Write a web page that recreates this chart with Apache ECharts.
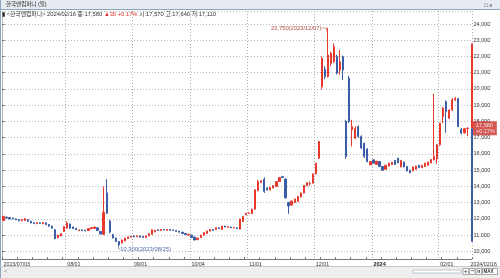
<!DOCTYPE html>
<html><head><meta charset="utf-8">
<script src="https://cdn.jsdelivr.net/npm/echarts@6/dist/echarts.min.js"></script>
<style>html,body{margin:0;padding:0;background:#fff;overflow:hidden}#c{width:500px;height:278px}</style>
</head><body><div id="c"></div>
<script>
const stockName = '한국앤컴퍼니';
const dates = [
'2023/07/03','2023/07/04','2023/07/05','2023/07/06','2023/07/07','2023/07/10','2023/07/11','2023/07/12','2023/07/13','2023/07/14','2023/07/17','2023/07/18','2023/07/19','2023/07/20','2023/07/21','2023/07/24','2023/07/25','2023/07/26','2023/07/27','2023/07/28','2023/07/31',
'2023/08/01','2023/08/02','2023/08/03','2023/08/04','2023/08/07','2023/08/08','2023/08/09','2023/08/10','2023/08/11','2023/08/14','2023/08/16','2023/08/17','2023/08/18','2023/08/21','2023/08/22','2023/08/23','2023/08/24','2023/08/25','2023/08/28','2023/08/29','2023/08/30','2023/08/31',
'2023/09/01','2023/09/04','2023/09/05','2023/09/06','2023/09/07','2023/09/08','2023/09/11','2023/09/12','2023/09/13','2023/09/14','2023/09/15','2023/09/18','2023/09/19','2023/09/20','2023/09/21','2023/09/22','2023/09/25','2023/09/26','2023/09/27',
'2023/10/04','2023/10/05','2023/10/06','2023/10/10','2023/10/11','2023/10/12','2023/10/13','2023/10/16','2023/10/17','2023/10/18','2023/10/19','2023/10/20','2023/10/23','2023/10/24','2023/10/25','2023/10/26','2023/10/27','2023/10/30','2023/10/31',
'2023/11/01','2023/11/02','2023/11/03','2023/11/06','2023/11/07','2023/11/08','2023/11/09','2023/11/10','2023/11/13','2023/11/14','2023/11/15','2023/11/16','2023/11/17','2023/11/20','2023/11/21','2023/11/22','2023/11/23','2023/11/24','2023/11/27','2023/11/28','2023/11/29','2023/11/30',
'2023/12/01','2023/12/04','2023/12/05','2023/12/06','2023/12/07','2023/12/08','2023/12/11','2023/12/12','2023/12/13','2023/12/14','2023/12/15','2023/12/18','2023/12/19','2023/12/20','2023/12/21','2023/12/22','2023/12/26','2023/12/27','2023/12/28',
'2024/01/02','2024/01/03','2024/01/04','2024/01/05','2024/01/08','2024/01/09','2024/01/10','2024/01/11','2024/01/12','2024/01/15','2024/01/16','2024/01/17','2024/01/18','2024/01/19','2024/01/22','2024/01/23','2024/01/24','2024/01/25','2024/01/26','2024/01/29','2024/01/30','2024/01/31',
'2024/02/01','2024/02/02','2024/02/05','2024/02/06','2024/02/07','2024/02/08','2024/02/13','2024/02/14','2024/02/15','2024/02/16'
];
const openP = [
11900,12100,12080,12050,12000,11950,11880,11900,11950,11850,11760,11700,11760,11700,11760,11650,11550,11330,10850,10950,11230,
11430,11680,11500,11420,11280,11320,11300,11280,11400,11420,11450,11230,11050,13600,11850,11030,10820,10610,10520,10640,10800,10880,
10950,10900,10950,10920,10850,10950,11050,11200,11330,11280,11350,11300,11350,11320,11280,11240,11180,11100,11000,
11000,10880,10720,10850,11000,11100,11250,11350,11350,11450,11350,11550,11480,11500,11450,11450,11370,11840,12250,
12350,12320,12600,13750,14250,14450,13900,13780,13900,14000,14300,14600,14450,13010,12850,13010,13070,13350,13590,14040,14150,14200,
14770,15740,20140,21210,20760,21580,21680,21990,21170,21990,18000,20660,17480,16970,17680,17070,16660,16300,15330,
15630,15350,15530,15220,15050,15250,15350,15600,15740,15200,15500,15220,15000,14950,15050,15300,15150,15220,15300,15450,15630,15700,
16560,18300,19220,18200,18700,19330,19400,17520,17300,17570
];
const highP = [
12200,12150,12100,12080,12030,11980,11980,12050,11980,11880,11800,11790,11790,11800,11780,11680,11580,11380,11030,11130,11560,
11850,11720,11530,11450,11340,11340,11320,11420,11480,11520,11480,11250,14000,14450,11950,11080,10850,10640,10720,10840,10910,10950,
10980,10970,10970,10940,10970,11120,11350,11320,11360,11370,11380,11370,11370,11340,11300,11260,11200,11120,11070,
11020,10900,10840,11020,11170,11270,11370,11380,11470,11480,11570,11580,11540,11520,11500,11470,12010,12170,12370,
12400,12620,13800,14400,14380,14550,13950,13970,14070,14320,14570,14650,14500,13050,13120,13240,13400,13620,14070,14260,14300,14790,
15450,16780,22000,21400,23750,22300,22800,22100,22400,22050,18100,20800,18100,17700,17750,17150,16700,16350,15550,
15680,15570,15560,15250,15320,15450,15500,15630,15760,15620,15520,15240,15020,15220,15270,15320,15320,15450,15520,15670,19700,16600,
17920,18900,19300,18750,19450,19500,19450,17600,17600,17640
];
const lowP = [
11880,12030,11980,11980,11930,11860,11860,11880,11830,11730,11700,11680,11700,11680,11630,11530,11410,10750,10800,10920,11200,
11400,11410,11380,11310,11260,11250,11240,11260,11380,11400,11260,11050,11000,12300,11100,10800,10590,10300,10480,10620,10780,10860,
10880,10880,10860,10830,10830,10930,11030,11180,11260,11260,11300,11280,11280,11260,11210,11160,11080,11010,10980,
10830,10680,10700,10830,10980,11080,11230,11280,11330,11380,11330,11480,11460,11430,11430,11380,11350,11820,12230,
12300,12300,12580,13700,14200,13600,13750,13760,13880,13980,14280,14520,13250,12315,12830,12990,13050,13330,13570,14020,14050,14180,
14750,15700,19980,20600,20700,21400,21600,20900,20870,20560,15700,17900,16460,16900,17000,16300,15750,15480,15300,
15400,15330,15200,14980,15030,15230,15330,15330,15430,15180,15180,14930,14800,14930,15030,15130,15130,15200,15280,15430,15610,15400,
16500,17900,17300,18150,18650,19250,17650,17200,17250,17110
];
const closeP = [
12150,12050,12000,12000,11950,11880,11950,12000,11850,11750,11720,11760,11720,11780,11650,11550,11430,10780,11000,11100,11530,
11740,11430,11400,11330,11320,11270,11260,11400,11460,11500,11280,11070,12400,12350,11200,10820,10610,10400,10700,10820,10890,10920,
10900,10950,10880,10850,10950,11100,11330,11300,11280,11350,11320,11350,11300,11280,11230,11180,11100,11030,11050,
10850,10700,10820,11000,11150,11250,11350,11300,11450,11400,11550,11500,11520,11450,11480,11400,11990,12150,12350,
12360,12600,13790,14300,14350,13690,13780,13950,14050,14300,14550,14550,13300,12800,13100,13220,13380,13600,14050,14240,14180,14770,
15430,16760,21890,20760,22090,22200,22600,20970,21680,21170,15840,17990,17680,17580,17070,16360,15840,15530,15530,
15430,15550,15220,15000,15300,15430,15480,15350,15450,15600,15200,14950,14850,15200,15250,15150,15300,15430,15500,15650,15840,16560,
17890,18820,18600,18700,19330,19400,17680,17280,17550,17580
];
const yLabelValues = [10000,11000,12000,13000,14000,15000,16000,17000,18000,19000,20000,21000,22000,23000,24000];
const rangeBarTop = 22800;
const rangeBarBottom = 10600;

const FONT = "'Liberation Sans','Noto Sans CJK KR',sans-serif";
const UP = '#e8392e', DOWN = '#3b5ca6';
const fmt = v => v.toLocaleString('en-US');
const n = dates.length;
const categories = dates.concat(['']);
const lastIdx = n - 1;
const lastClose = closeP[lastIdx], prevClose = closeP[lastIdx - 1];
const chg = lastClose - prevClose;
const pct = (chg / prevClose * 100).toFixed(2);

const labelIdx = new Set([0, n]);
for (let i = 1; i < n; i++) if (dates[i].slice(5, 7) !== dates[i - 1].slice(5, 7)) labelIdx.add(i);
const gridIdx = new Set([...labelIdx].filter(i => i !== 0 && i !== n));

let maxI = 0, minI = 0;
for (let i = 0; i < n; i++) { if (highP[i] > highP[maxI]) maxI = i; if (lowP[i] < lowP[minI]) minI = i; }

const chart = echarts.init(document.getElementById('c'), null, { renderer: 'canvas' });
chart.setOption({
  animation: false,
  backgroundColor: '#fff',
  textStyle: { fontFamily: FONT },
  title: [{
    left: 6, top: 2, padding: 0,
    text: stockName + ' (일)',
    textStyle: { fontSize: 5.5, fontWeight: 'normal', color: '#222', fontFamily: FONT }
  }, {
    left: 2, top: 11.5, padding: 0,
    text: '{m|▮} {a|<' + stockName + '> ' + dates[lastIdx] + ' 종:' + fmt(lastClose) + ' }{r|▲' + fmt(chg) + ' +' + pct + '%}{a| 시:' + fmt(openP[lastIdx]) + ' 고:' + fmt(highP[lastIdx]) + ' 저:' + fmt(lowP[lastIdx]) + '}',
    textStyle: {
      fontSize: 5.8, fontWeight: 'normal', fontFamily: FONT,
      rich: {
        m: { fontSize: 5.8, color: '#222', fontFamily: FONT },
        a: { fontSize: 5.8, color: '#333', fontFamily: FONT },
        r: { fontSize: 5.8, color: '#e0302a', fontFamily: FONT }
      }
    }
  }],
  graphic: [
    { type: 'rect', z: -10, shape: { x: 0, y: 0, width: 500, height: 10 }, style: { fill: '#e6ebf1' } },
    { type: 'line', z: -9, shape: { x1: 0, y1: 9.5, x2: 500, y2: 9.5 }, style: { stroke: '#8ea3bd', lineWidth: 1 } },
    { type: 'line', z: -9, shape: { x1: 0.5, y1: 0, x2: 0.5, y2: 278 }, style: { stroke: '#8ea3bd', lineWidth: 1 } },
    { type: 'text', x: 484, y: 2, style: { text: '□ x', font: '6px ' + FONT, fill: '#333' } },
    { type: 'rect', z: -10, shape: { x: 0, y: 266, width: 500, height: 12 }, style: { fill: '#eeeeee' } },
    { type: 'line', z: -9, shape: { x1: 0, y1: 266.5, x2: 500, y2: 266.5 }, style: { stroke: '#c8c8c8', lineWidth: 1 } },
    { type: 'text', x: 4, y: 268, style: { text: '<', font: '6px ' + FONT, fill: '#888' } },
    { type: 'rect', shape: { x: 413, y: 270, width: 48, height: 3 }, style: { fill: '#fff', stroke: '#9ab', lineWidth: 0.6 } },
    { type: 'rect', shape: { x: 463, y: 268.5, width: 5.5, height: 6 }, style: { fill: '#fff', stroke: '#777', lineWidth: 0.6 } },
    { type: 'text', x: 464, y: 268.5, style: { text: '+', font: 'bold 6px ' + FONT, fill: '#333' } },
    { type: 'rect', shape: { x: 469.5, y: 268.5, width: 5.5, height: 6 }, style: { fill: '#fff', stroke: '#777', lineWidth: 0.6 } },
    { type: 'text', x: 471, y: 268.5, style: { text: '−', font: 'bold 6px ' + FONT, fill: '#333' } },
    { type: 'rect', shape: { x: 476, y: 268.5, width: 5.5, height: 6 }, style: { fill: '#fff', stroke: '#777', lineWidth: 0.6 } },
    { type: 'text', x: 477.3, y: 269, style: { text: 'n', font: 'bold 5px ' + FONT, fill: '#333' } },
    { type: 'rect', shape: { x: 482.5, y: 268.5, width: 15, height: 6 }, style: { fill: '#fff', stroke: '#777', lineWidth: 0.6 } },
    { type: 'text', x: 483.5, y: 269.3, style: { text: 'MAX', font: 'bold 4.5px ' + FONT, fill: '#333' } }
  ],
  grid: { left: 2, right: 27, top: 11, bottom: 19, show: false },
  xAxis: [{
    type: 'category', data: categories, boundaryGap: true,
    axisLine: { lineStyle: { color: '#777', width: 1 } },
    axisTick: { show: true, inside: true, length: 2, interval: i => i % 5 === 0, lineStyle: { color: '#777' } },
    axisLabel: {
      interval: i => labelIdx.has(i), align: 'left', margin: 3, fontSize: 5.3, color: '#333', fontFamily: FONT,
      formatter: (v, i) => {
        if (i === 0) return dates[0];
        if (i === n) return dates[lastIdx];
        if (dates[i].slice(5, 7) === '01') return '{b|' + dates[i].slice(0, 4) + '}';
        return dates[i].slice(5);
      },
      rich: { b: { fontWeight: 'bold', fontSize: 5.5, color: '#222', fontFamily: FONT } }
    },
    splitLine: { show: true, interval: i => gridIdx.has(i), lineStyle: { color: '#aaaaaa', type: [1, 2], width: 1 } }
  }, {
    type: 'value', min: 0, max: 1, show: false, gridIndex: 0
  }],
  yAxis: {
    type: 'value', position: 'right', min: 9530, max: 24800, splitNumber: 15, minInterval: 1000, maxInterval: 1000,
    axisLine: { show: true, lineStyle: { color: '#aaa', type: [1, 1] } },
    axisTick: { show: true, length: 2.5, lineStyle: { color: '#666' } },
    axisLabel: { showMinLabel: false, showMaxLabel: false, margin: 1.5, fontSize: 5.5, color: '#333', fontFamily: FONT,
      formatter: v => yLabelValues.includes(v) ? fmt(v) : '' },
    splitLine: { show: true, lineStyle: { color: '#b8b8b8', type: [1, 2], width: 1 } }
  },
  series: [{
    type: 'candlestick', name: stockName,
    data: dates.map((d, i) => [openP[i], closeP[i], lowP[i], highP[i]]),
    barWidth: 1.7,
    itemStyle: { color: UP, color0: DOWN, borderColor: UP, borderColor0: DOWN, borderWidth: 1 },
    markPoint: {
      symbol: 'circle', symbolSize: 1, itemStyle: { color: 'rgba(0,0,0,0)' },
      data: [{
        coord: [dates[maxI], highP[maxI]],
        label: { show: true, position: 'left', distance: 0, offset: [1, 0], fontSize: 5.8, color: '#b04a42', fontFamily: "'DejaVu Sans','Liberation Sans',sans-serif",
          formatter: () => '{t|' + fmt(highP[maxI]) + '(' + dates[maxI] + ')}─┐',
          rich: { t: { fontSize: 5.8, color: '#b04a42', fontFamily: FONT } } }
      }, {
        coord: [dates[minI], lowP[minI]],
        label: { show: true, position: 'right', distance: 0, offset: [-2.5, 3], fontSize: 5.8, color: '#4f6fa8', fontFamily: "'DejaVu Sans','Liberation Sans',sans-serif",
          formatter: () => '└{t|' + fmt(lowP[minI]) + '(' + dates[minI] + ')}',
          rich: { t: { fontSize: 5.8, color: '#4f6fa8', fontFamily: FONT } } }
      }]
    }
  }, {
    type: 'line', xAxisIndex: 1, symbol: 'none', silent: true,
    data: [[1, rangeBarTop], [1, lastClose]], lineStyle: { color: '#e8392e', width: 2 }
  }, {
    type: 'line', xAxisIndex: 1, symbol: 'none', silent: true,
    data: [[1, lastClose], [1, rangeBarBottom]], lineStyle: { color: '#3b5ca6', width: 2 }
  }, {
    type: 'scatter', xAxisIndex: 1, symbolSize: 0, silent: true, z: 10,
    data: [[1, lastClose]],
    label: { show: true, position: 'right', distance: 1, fontSize: 5.5, lineHeight: 6, color: '#fff', fontFamily: FONT,
      backgroundColor: '#c9302a', padding: [1, 2, 1, 3],
      formatter: () => fmt(lastClose) + '\n+' + pct + '%' }
  }]
});
</script></body></html>
